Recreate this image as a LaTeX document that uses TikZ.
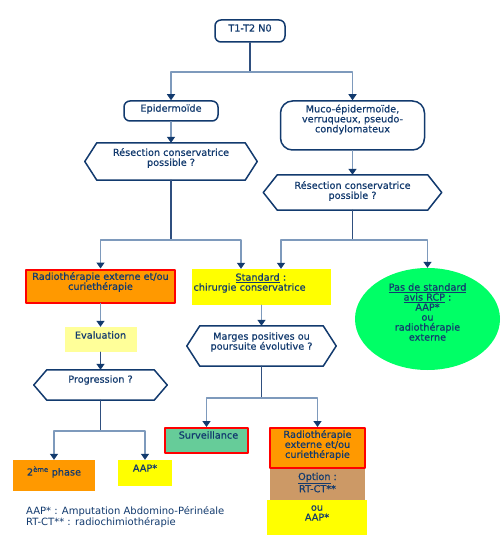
\documentclass[tikz,border=0pt]{standalone}
\usepackage{fontspec}
\setmainfont{DejaVu Sans}[FakeBold=0.5]
\newfontfamily\legendfont{DejaVu Sans}
\usetikzlibrary{arrows.meta}
\usetikzlibrary{shapes.geometric}
\definecolor{navy}{HTML}{123A6E}
\definecolor{stub}{HTML}{2F4F7F}
\definecolor{steel}{HTML}{7E9ABC}
\definecolor{orangebox}{HTML}{FF9900}
\definecolor{yellowbox}{HTML}{FFFF00}
\definecolor{paleyellow}{HTML}{FFFF99}
\definecolor{greenbox}{HTML}{00FF66}
\definecolor{seagreen}{HTML}{66CC99}
\definecolor{tanbox}{HTML}{CC9966}
\definecolor{redframe}{HTML}{FF0000}

% cadre hexagonal autour d'un noeud
\newcommand{\hexa}[2]{\draw[frame] (#1.west) -- ([xshift=#2pt]#1.north west) -- ([xshift=-#2pt]#1.north east) -- (#1.east) -- ([xshift=-#2pt]#1.south east) -- ([xshift=#2pt]#1.south west) -- cycle;}

\begin{document}
\begin{tikzpicture}[line cap=round,line join=round,>={Triangle[length=6pt,width=8pt,color=navy]},x=1pt,y=-1pt,
	font=\fontsize{9.7}{10}\selectfont,
	box/.style={rectangle, inner sep=0pt},
	frame/.style={draw=navy, line width=1.5pt},
	rbox/.style={box, frame, rounded corners=6pt},
	redbox/.style={box, draw=redframe, line width=2pt},
	txt/.style={align=center, text=navy, inner sep=0pt},
	stubline/.style={draw=stub, line width=1.3pt},
	bar/.style={draw=steel, line width=1.3pt}]

	\fill[white] (0,0) rectangle (500,540);
	\useasboundingbox (0,0) rectangle (500,540);

	% niveau 1
	\node[rbox, minimum width=70, minimum height=22] (top) at (250,31) {};
	\node[txt] (topt) at ([yshift=3pt]top.center) {T1-T2 N0};

	% types histologiques
	\node[rbox, minimum width=94, minimum height=20] (epi) at (171,111) {};
	\node[txt] (epit) at ([yshift=2pt]epi.center) {Epidermoïde};

	\node[rbox, rounded corners=12pt, minimum width=144, minimum height=49] (muco) at (352.5,125.5) {};
	\node[txt] (mucot) at ([yshift=6pt]muco.center) {Muco-épidermoïde,\\verruqueux, pseudo-\\condylomateux};

	% questions
	\node[box, minimum width=172, minimum height=37] (res1) at (171,161.5) {};
	\hexa{res1}{12}
	\node[txt] (res1t) at ([yshift=3.5pt]res1.center) {Résection conservatrice\\possible ?};

	\node[box, minimum width=178, minimum height=35] (res2) at (352.5,192.5) {};
	\hexa{res2}{14}
	\node[txt] (res2t) at ([yshift=1.5pt]res2.center) {Résection conservatrice\\possible ?};

	% traitements
	\node[redbox, fill=orangebox, minimum width=149, minimum height=33] (radio1) at (100.5,286) {};
	\node[txt] (radio1t) at ([yshift=4pt]radio1.center) {Radiothérapie externe et/ou\\curiethérapie};

	\node[box, fill=yellowbox, minimum width=139, minimum height=36] (standard) at (261.5,287) {};
	\node[txt, align=left, text width=136pt] (standardt) at ([yshift=4pt]standard.center) {\hspace*{42pt}\underline{Standard}~:\\chirurgie conservatrice};

	\node[ellipse, fill=greenbox, inner sep=0pt, minimum width=145, minimum height=102] (rcp) at (427.5,319) {};
	\node[txt] (rcpt) at ([yshift=7pt]rcp.center) {\underline{Pas de standard}\\\underline{avis RCP}~:\\AAP*\\ou\\radiothérapie\\externe};

	\node[box, fill=paleyellow, minimum width=72, minimum height=25] (eval) at (100.5,339.5) {};
	\node[txt] (evalt) at ([yshift=4.5pt]eval.center) {Evaluation};

	\node[box, minimum width=133, minimum height=30] (prog) at (100.5,385) {};
	\hexa{prog}{13}
	\node[txt] (progt) at ([yshift=5pt]prog.center) {Progression ?};

	\node[box, minimum width=149, minimum height=40] (marges) at (261.5,346) {};
	\hexa{marges}{13}
	\node[txt] (margest) at ([yshift=4pt]marges.center) {Marges positives ou\\poursuite évolutive ?};

	% derniere ligne
	\node[box, fill=orangebox, minimum width=82, minimum height=31] (phase) at (54,475.5) {};
	\node[txt] (phaset) at ([yshift=3.5pt]phase.center) {2\textsuperscript{ème} phase};

	\node[box, fill=yellowbox, minimum width=54, minimum height=26] (aap) at (145,473) {};
	\node[txt] (aapt) at ([yshift=5pt]aap.center) {AAP*};

	\node[redbox, fill=seagreen, minimum width=83, minimum height=25] (surv) at (206.5,440.5) {};
	\node[txt] (survt) at ([yshift=5.5pt,xshift=2pt]surv.center) {Surveillance};

	\node[redbox, fill=orangebox, minimum width=95, minimum height=40] (radio2) at (317.5,448) {};
	\node[txt] (radio2t) at ([yshift=3pt]radio2.center) {Radiothérapie\\externe et/ou\\curiethérapie};

	\node[box, fill=tanbox, minimum width=95, minimum height=31] (option) at (317.5,484.5) {};
	\node[txt] (optiont) at ([yshift=2pt]option.center) {\underline{Option}~:\\RT-CT**};

	\node[box, fill=yellowbox, minimum width=100, minimum height=35] (ouaap) at (317,517.5) {};
	\node[txt] (ouaapt) at ([yshift=4.5pt]ouaap.center) {ou\\AAP*};

	% legende
	\node[txt, align=left, anchor=west, font=\legendfont\fontsize{10}{10}\selectfont] (legende) at (26,517) {AAP*~: Amputation Abdomino-Périnéale\\RT-CT**~: radiochimiothérapie};

	% connecteurs
	\coordinate (j1) at (250,72);
	\draw[stubline] (top.south) -- (j1);
	\draw[bar,->] (j1) -| (epi.north);
	\draw[bar,->] (j1) -| (muco.north);

	\draw[bar,->] (epi.south) -- (res1.north);
	\draw[bar,->] (muco.south) -- (res2.north);

	\coordinate (j2) at (171,240);
	\draw[stubline] (res1.south) -- (j2);
	\draw[bar,->] (j2) -| (radio1.north);
	\draw[bar,->] (j2) -| ([xshift=-20.5pt]standard.north);

	\coordinate (j3) at (352.5,240);
	\draw[stubline] (res2.south) -- (j3);
	\draw[bar,->] (j3) -| ([xshift=19.5pt]standard.north);
	\draw[bar,->] (j3) -| (rcp.north);

	\draw[bar,->] (radio1.south) -- (eval.north);
	\draw[stubline,->] (eval.south) -- (prog.north);
	\draw[bar,->] (standard.south) -- (marges.north);

	\coordinate (j4) at (100.5,431);
	\draw[stubline] (prog.south) -- (j4);
	\draw[bar,->] (j4) -| (phase.north);
	\draw[bar,->] (j4) -| (aap.north);

	\coordinate (j5) at (261.5,398);
	\draw[stubline] (marges.south) -- (j5);
	\draw[bar,->] (j5) -| (surv.north);
	\draw[bar,->] (j5) -| (radio2.north);

\end{tikzpicture}
\end{document}
